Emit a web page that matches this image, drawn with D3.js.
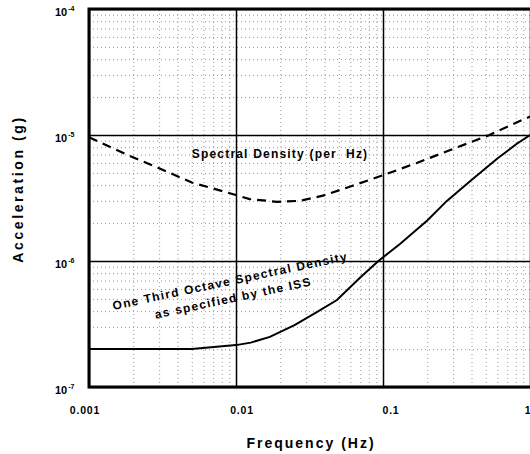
<!DOCTYPE html>
<html>
<head>
<meta charset="utf-8">
<script src="https://cdn.jsdelivr.net/npm/d3@7"></script>
<style>
  body { margin: 0; background: #fff; }
  text { font-family: "Liberation Sans", Arial, sans-serif; font-weight: bold; fill: #000; }
</style>
</head>
<body>
<div id="chart"></div>
<script>
// Chart data
var xTicks = [0.001, 0.01, 0.1, 1];
var xTickLabels = ["0.001", "0.01", "0.1", "1"];
var yTicks = [1e-7, 1e-6, 1e-5, 1e-4];
var yTickExps = ["-7", "-6", "-5", "-4"];

// One third octave spectral density (ISS spec), solid line
var issFreq = [0.001, 0.005, 0.01, 0.0126, 0.017, 0.025, 0.035, 0.0486, 0.07, 0.093, 0.131, 0.2, 0.272, 0.4, 0.6, 0.8, 1];
var issAccel = [2.0e-7, 2.0e-7, 2.15e-7, 2.25e-7, 2.5e-7, 3.1e-7, 3.9e-7, 4.9e-7, 7.4e-7, 1.0e-6, 1.37e-6, 2.1e-6, 3.0e-6, 4.4e-6, 6.5e-6, 8.4e-6, 1.0e-5];

// Spectral density (per Hz), dashed line
var sdFreq = [0.001, 0.0018, 0.003, 0.005, 0.0087, 0.0124, 0.019, 0.027, 0.039, 0.06, 0.1, 0.17, 0.27, 0.53, 0.93, 1];
var sdAccel = [9.6e-6, 7.0e-6, 5.45e-6, 4.2e-6, 3.5e-6, 3.1e-6, 2.95e-6, 3.0e-6, 3.3e-6, 3.9e-6, 4.8e-6, 6.0e-6, 7.4e-6, 1.0e-5, 1.35e-5, 1.4e-5];

var svgWidth = 530;
var svgHeight = 454;
var margin = { top: 9, right: 0, bottom: 67, left: 89 };
var chartWidth = svgWidth - margin.left - margin.right;
var chartHeight = svgHeight - margin.top - margin.bottom;

var svg = d3.select("#chart")
  .append("svg")
  .attr("width", svgWidth)
  .attr("height", svgHeight);

var chartGroup = svg.append("g")
  .attr("transform", `translate(${margin.left}, ${margin.top})`);

var xScale = d3.scaleLog().domain([0.001, 1]).range([0, chartWidth]);
var yScale = d3.scaleLog().domain([1e-7, 1e-4]).range([chartHeight, 0]);

// minor grid (2..9 within each decade), dotted
var minorX = xScale.ticks().filter(t => xTicks.indexOf(t) < 0);
var minorY = yScale.ticks().filter(t => !yTicks.some(v => Math.abs(v - t) / v < 1e-6));

chartGroup.append("g")
  .attr("transform", "translate(0, " + chartHeight + ")")
  .call(d3.axisBottom(xScale).tickValues(minorX).tickSize(-chartHeight).tickFormat(""))
  .call(g => g.select(".domain").remove())
  .selectAll("line")
  .attr("stroke", "#999")
  .attr("stroke-dasharray", "1,3");

chartGroup.append("g")
  .call(d3.axisLeft(yScale).tickValues(minorY).tickSize(-chartWidth).tickFormat(""))
  .call(g => g.select(".domain").remove())
  .selectAll("line")
  .attr("stroke", "#999")
  .attr("stroke-dasharray", "1,3");

// major grid, solid
chartGroup.append("g")
  .attr("transform", "translate(0, " + chartHeight + ")")
  .call(d3.axisBottom(xScale).tickValues(xTicks).tickSize(-chartHeight).tickFormat(""))
  .call(g => g.select(".domain").remove())
  .selectAll("line")
  .attr("stroke", "#000")
  .attr("stroke-width", 1.5);

chartGroup.append("g")
  .call(d3.axisLeft(yScale).tickValues(yTicks).tickSize(-chartWidth).tickFormat(""))
  .call(g => g.select(".domain").remove())
  .selectAll("line")
  .attr("stroke", "#000")
  .attr("stroke-width", 1.5);

// frame
chartGroup.append("rect")
  .attr("x", 0).attr("y", 0)
  .attr("width", chartWidth + 2).attr("height", chartHeight)
  .attr("fill", "none")
  .attr("stroke", "#000")
  .attr("stroke-width", 3);

// tick labels (scan shifts them a little off their grid lines)
var xLabelShift = [-4, 6, 8, -2];
chartGroup.selectAll(".xlab")
  .data(xTicks)
  .enter()
  .append("text")
  .attr("x", (d, i) => xScale(d) + xLabelShift[i])
  .attr("y", chartHeight + 27)
  .attr("text-anchor", "middle")
  .style("font-size", "10.5px")
  .style("letter-spacing", "0.8px")
  .text((d, i) => xTickLabels[i]);

var ylab = chartGroup.selectAll(".ylab")
  .data(yTicks)
  .enter()
  .append("text")
  .attr("x", -34)
  .attr("y", d => yScale(d) + 7)
  .attr("text-anchor", "start")
  .style("font-size", "11px");
ylab.append("tspan").text("10");
ylab.append("tspan")
  .attr("dy", -5)
  .attr("dx", 1)
  .style("font-size", "7px")
  .text((d, i) => yTickExps[i]);

// curves
var drawLine = d3.line()
  .x(d => xScale(d[0]))
  .y(d => yScale(d[1]));

chartGroup.append("path")
  .attr("d", drawLine(issFreq.map((f, i) => [f, issAccel[i]])))
  .attr("fill", "none")
  .attr("stroke", "#000")
  .attr("stroke-width", 2);

chartGroup.append("path")
  .attr("d", drawLine(sdFreq.map((f, i) => [f, sdAccel[i]])))
  .attr("fill", "none")
  .attr("stroke", "#000")
  .attr("stroke-width", 2.2)
  .attr("stroke-dasharray", "9,6");

// annotations
chartGroup.append("text")
  .attr("x", 191)
  .attr("y", 149)
  .attr("text-anchor", "middle")
  .style("font-size", "12px")
  .style("letter-spacing", "1.2px")
  .style("white-space", "pre")
  .text("Spectral Density (per  Hz)");

chartGroup.append("text")
  .attr("transform", "translate(142, 276) rotate(-12)")
  .attr("text-anchor", "middle")
  .style("font-size", "12px")
  .style("letter-spacing", "1.3px")
  .text("One Third Octave Spectral Density");

chartGroup.append("text")
  .attr("transform", "translate(145, 293) rotate(-12)")
  .attr("text-anchor", "middle")
  .style("font-size", "12px")
  .style("letter-spacing", "1.3px")
  .text("as specified by the ISS");

// axis titles
svg.append("text")
  .attr("x", 311)
  .attr("y", 448)
  .attr("text-anchor", "middle")
  .style("font-size", "14px")
  .style("letter-spacing", "2px")
  .text("Frequency (Hz)");

svg.append("text")
  .attr("transform", "translate(23, 189) rotate(-90)")
  .attr("text-anchor", "middle")
  .style("font-size", "14px")
  .style("letter-spacing", "2.6px")
  .text("Acceleration (g)");
</script>
</body>
</html>
